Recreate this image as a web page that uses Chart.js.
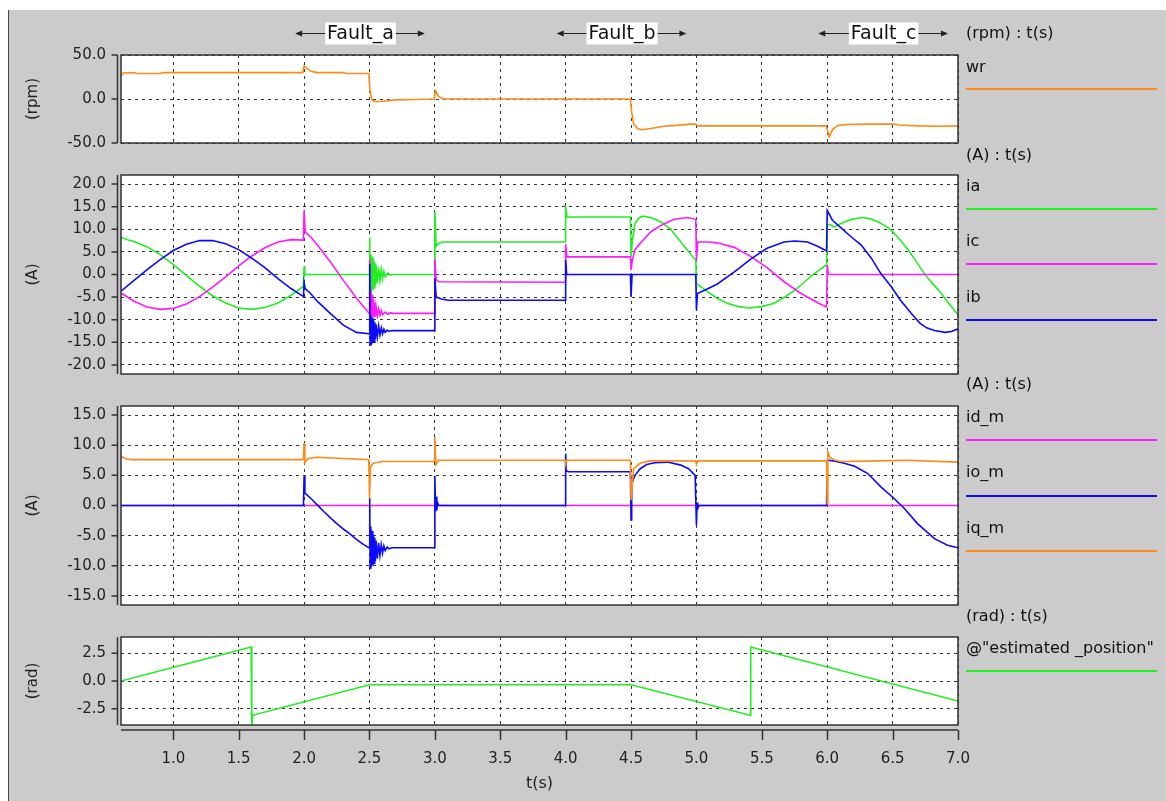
<!DOCTYPE html>
<html><head><meta charset="utf-8">
<script src="https://cdn.jsdelivr.net/npm/chart.js@4.4.1/dist/chart.umd.min.js"></script>
<style>
html,body{margin:0;padding:0;background:#fff;width:1166px;height:801px;overflow:hidden;font-family:'DejaVu Sans',sans-serif;}
#bg{position:absolute;left:8px;top:10px;width:1158px;height:791px;background:#cbcbcb;border-left:1px solid #444;box-sizing:border-box;}
canvas{position:absolute;left:0;}
.lg{position:absolute;left:966px;font-size:16px;line-height:20px;height:20px;color:#111;white-space:nowrap;}
.ln{position:absolute;left:966px;width:191px;height:2px;}
</style></head><body>
<div id="bg"></div>
<canvas id="c1" width="1166" height="150" style="top:10px"></canvas>
<canvas id="c2" width="1166" height="230" style="top:160px"></canvas>
<canvas id="c3" width="1166" height="230" style="top:390px"></canvas>
<canvas id="c4" width="1166" height="181" style="top:620px"></canvas>
<script>
// ---------- data ----------
const xTicks = [1.0,1.5,2.0,2.5,3.0,3.5,4.0,4.5,5.0,5.5,6.0,6.5,7.0];
const yTicksRpm = [-50,0,50];
const yTicksAbc = [-20,-15,-10,-5,0,5,10,15,20];
const yTicksDq = [-15,-10,-5,0,5,10,15];
const yTicksRad = [-2.5,0,2.5];

const faultNames = ['Fault_a','Fault_b','Fault_c'];
const faultStart = [2.0,4.0,6.0];
const faultEnd = [3.0,5.0,7.0];

const wr = [[0.6,26],[0.615,29.5],[0.7,30],[0.72,29],[0.9,29],[0.92,30],[1.99,30],[2.0,37.5],[2.02,35],[2.05,31.5],[2.1,30],[2.3,30],[2.32,29],[2.495,29],[2.505,8],[2.52,-1.5],[2.55,-3],[2.6,-2.5],[2.7,-1],[2.85,-0.5],[2.995,0],[3.005,9],[3.03,3],[3.06,0],[3.99,0],[4.0,-1.5],[4.02,0],[4.495,0],[4.505,-15],[4.52,-28],[4.55,-33.5],[4.58,-35],[4.65,-33.5],[4.75,-31],[4.85,-30],[4.95,-28.5],[4.995,-28.5],[5.01,-30.5],[5.99,-30.5],[6.0,-34],[6.015,-43],[6.04,-35],[6.08,-30],[6.15,-29],[6.3,-28.5],[6.5,-28.5],[6.55,-29.5],[6.7,-30.5],[6.85,-31],[7.0,-30.5]];

const ia = [[0.6,8.2],[0.65,7.7],[0.7,7.3],[0.8,6.1],[0.9,4.4],[1.0,2.2],[1.1,-0.2],[1.2,-2.6],[1.3,-4.7],[1.4,-6.3],[1.5,-7.4],[1.6,-7.7],[1.7,-7.3],[1.8,-6.3],[1.9,-4.6],[1.995,-2.6],[2.0,1.8],[2.005,0],[2.495,0],
 [2.5,0],[2.502,8.2],[2.505,-4.5],[2.51,4.5],[2.515,-4],[2.52,4],[2.525,-3.5],[2.53,3.4],[2.535,-3],[2.54,2.8],[2.545,-2.5],[2.55,2.2],[2.56,-2],[2.57,1.6],[2.58,-1.4],[2.59,1.1],[2.6,-0.9],[2.61,0.7],[2.62,-0.5],[2.64,0.3],[2.66,-0.1],[2.68,0],
 [2.995,0],[3.0,13.9],[3.01,6.2],[3.03,6.9],[3.06,7.2],[3.995,7.2],[4.0,15.1],[4.01,12.7],[4.495,12.7],[4.5,3.9],[4.51,7.5],[4.53,11.2],[4.56,12.5],[4.59,12.9],[4.65,12.6],[4.73,11.6],[4.8,10.1],[4.85,8.3],[4.9,6.5],[4.96,4.3],[4.995,3.2],
 [5.0,-2.0],[5.085,-3.8],[5.16,-5.3],[5.24,-6.4],[5.32,-7.1],[5.4,-7.4],[5.5,-7.1],[5.59,-6.4],[5.67,-5.1],[5.75,-3.5],[5.81,-2.1],[5.87,-0.5],[5.93,0.8],[5.995,2.1],
 [6.0,10.9],[6.02,11.1],[6.05,10.5],[6.13,11.6],[6.2,12.3],[6.27,12.6],[6.33,12.3],[6.39,11.6],[6.44,10.8],[6.49,9.8],[6.55,7.9],[6.62,5.4],[6.68,2.9],[6.74,0.3],[6.8,-1.8],[6.87,-4.1],[6.93,-6.4],[7.0,-8.9]];

const ic = [[0.6,-4.1],[0.7,-5.9],[0.8,-7.2],[0.9,-7.7],[1.0,-7.5],[1.1,-6.5],[1.2,-4.9],[1.3,-2.8],[1.4,-0.5],[1.5,1.9],[1.6,4.1],[1.7,5.9],[1.8,7.2],[1.9,7.7],[1.995,7.6],[2.0,14.2],[2.008,9.6],[2.02,9.1],[2.06,8.0],[2.1,6.6],[2.2,2.8],[2.3,-1.3],[2.4,-5.2],[2.495,-8.5],
 [2.5,-8.6],[2.502,3.5],[2.505,-9.6],[2.51,-3.5],[2.515,-9.5],[2.52,-4.5],[2.525,-9.4],[2.53,-5.5],[2.535,-9.3],[2.54,-6.3],[2.545,-9.2],[2.55,-7],[2.56,-9.1],[2.57,-7.6],[2.58,-9],[2.59,-8],[2.6,-8.9],[2.62,-8.3],[2.64,-8.8],[2.66,-8.5],[2.68,-8.6],
 [2.995,-8.6],[3.0,3.5],[3.01,-1.2],[3.03,-1.6],[3.995,-1.7],[4.0,6.7],[4.01,3.9],[4.495,3.9],[4.5,1.0],[4.51,3.2],[4.53,5.5],[4.57,6.9],[4.65,9.4],[4.73,10.9],[4.83,12.2],[4.93,12.6],[4.995,12.2],
 [5.0,3.2],[5.01,7.2],[5.09,7.2],[5.16,7.0],[5.29,6.0],[5.42,3.9],[5.54,1.5],[5.67,-1.6],[5.8,-4.2],[5.93,-6.3],[5.995,-7.2],[6.0,2.1],[6.01,0],[7.0,0]];

const ib = [[0.6,-3.7],[0.7,-1.3],[0.8,1.1],[0.9,3.3],[1.0,5.3],[1.1,6.7],[1.2,7.5],[1.3,7.5],[1.4,6.8],[1.5,5.5],[1.6,3.6],[1.7,1.5],[1.8,-0.9],[1.9,-3.1],[1.995,-4.9],[2.0,-1.8],[2.008,-3.1],[2.05,-4.2],[2.1,-5.9],[2.2,-8.6],[2.3,-11.2],[2.4,-12.8],[2.495,-13.1],
 [2.5,-13.1],[2.502,2.4],[2.505,-15.6],[2.51,-9],[2.515,-15.5],[2.52,-9.5],[2.525,-15.2],[2.53,-10],[2.535,-14.8],[2.54,-10.5],[2.545,-14.3],[2.55,-11],[2.56,-13.8],[2.57,-11.4],[2.58,-13.4],[2.59,-11.8],[2.6,-13.1],[2.61,-12.1],[2.62,-12.8],[2.635,-12.3],[2.65,-12.6],[2.67,-12.4],
 [2.995,-12.4],[3.0,-0.9],[3.01,-5.0],[3.05,-5.4],[3.1,-5.7],[3.995,-5.7],[4.0,3.2],[4.008,0],[4.495,0],[4.5,-4.9],[4.508,0],[4.995,0],
 [5.0,-7.9],[5.008,-4.2],[5.09,-3.1],[5.16,-2.1],[5.29,0.6],[5.42,3.5],[5.54,5.8],[5.67,7.2],[5.75,7.4],[5.85,7.2],[5.93,6.2],[5.995,5.2],
 [6.0,14.2],[6.04,12.0],[6.11,10.2],[6.18,8.4],[6.26,6.5],[6.34,3.5],[6.41,0.2],[6.49,-2.7],[6.56,-5.7],[6.64,-8.5],[6.71,-10.8],[6.76,-11.8],[6.82,-12.4],[6.9,-12.8],[6.95,-12.6],[7.0,-12.0]];

const idm = [[0.6,0],[7.0,0]];

const iom = [[0.6,0],[1.995,0],[2.0,4.85],[2.006,2.0],[2.02,1.8],[2.06,1.0],[2.1,0.1],[2.15,-1.0],[2.2,-2.0],[2.25,-3.0],[2.3,-3.9],[2.35,-4.7],[2.4,-5.6],[2.45,-6.4],[2.495,-7.0],
 [2.5,-7],[2.502,1.2],[2.505,-10.4],[2.51,-3.5],[2.515,-10.2],[2.52,-4.2],[2.525,-9.9],[2.53,-4.8],[2.535,-9.6],[2.54,-5.3],[2.545,-9.2],[2.55,-5.8],[2.56,-8.8],[2.57,-6.2],[2.58,-8.3],[2.59,-6.5],[2.6,-7.9],[2.61,-6.7],[2.62,-7.5],[2.635,-6.9],[2.65,-7.2],[2.67,-7.0],
 [2.995,-7.0],[3.0,4.9],[3.005,-1],[3.01,1.5],[3.015,-0.8],[3.02,0.5],[3.03,0],[3.995,0],[4.0,8.6],[4.005,5.8],[4.02,5.6],[4.495,5.6],[4.5,-2.4],[4.505,3.6],[4.53,5.0],[4.57,6.1],[4.62,6.8],[4.68,7.1],[4.78,7.2],[4.88,6.7],[4.94,6.1],[4.99,5.0],
 [5.0,-3.3],[5.005,0.5],[5.01,-0.5],[5.02,0],[5.995,0],[6.0,7.5],[6.05,7.4],[6.13,7.0],[6.21,6.5],[6.31,5.3],[6.41,3.1],[6.51,1.2],[6.59,-0.5],[6.69,-3.0],[6.82,-5.5],[6.92,-6.6],[7.0,-7.0]];

const iqm = [[0.6,8.2],[0.63,7.8],[0.68,7.6],[1.995,7.6],[2.0,10.4],[2.006,7.1],[2.03,7.8],[2.1,8.0],[2.3,7.8],[2.495,7.6],[2.5,1.2],[2.508,6.4],[2.53,7.0],[2.6,7.3],[2.995,7.3],[3.0,11.4],[3.008,6.8],[3.03,7.5],[3.995,7.5],[4.0,7.0],[4.01,7.5],[4.495,7.5],[4.5,0.9],[4.52,6.1],[4.57,7.0],[4.64,7.4],[4.995,7.4],[5.0,6.8],[5.01,7.4],[5.995,7.4],[6.0,0.3],[6.005,8.9],[6.02,8.0],[6.05,7.6],[6.1,7.3],[6.4,7.4],[6.6,7.5],[7.0,7.2]];

const pos = [[0.6,0],[1.595,3.06],[1.6,-4.5],[1.605,-3.08],[2.5,-0.33],[4.5,-0.33],[5.41,-3.08],[5.415,3.06],[7.0,-1.8]];

// ---------- styles / layout ----------
const C = {orange:'#ff8a14', green:'#22ee22', magenta:'#ff1aff', blue:'#0a0aff'};
const FONT = 'DejaVu Sans';

const decor = {
  id: 'decor',
  beforeDraw(chart) {
    const a = chart.chartArea, ctx = chart.ctx;
    ctx.save(); ctx.fillStyle = '#fff';
    ctx.fillRect(a.left, a.top, a.right - a.left, a.bottom - a.top);
    ctx.restore();
  },
  afterDraw(chart, args, o) {
    const a = chart.chartArea, ctx = chart.ctx, ys = chart.scales.y, xs = chart.scales.x;
    ctx.save();
    ctx.strokeStyle = '#333'; ctx.lineWidth = 1.5;
    ctx.strokeRect(a.left, a.top, a.right - a.left, a.bottom - a.top);
    const ax = a.left - 3.5;
    ctx.beginPath(); ctx.moveTo(ax, a.top); ctx.lineTo(ax, a.bottom);
    ys.ticks.forEach(t => { const y = ys.getPixelForValue(t.value); ctx.moveTo(ax - 6, y); ctx.lineTo(ax, y); });
    ctx.stroke();
    if (o.xAxis) {
      const ay = a.bottom + 5;
      ctx.beginPath(); ctx.moveTo(a.left, ay); ctx.lineTo(a.right, ay);
      xs.ticks.forEach(t => { const x = Math.round(xs.getPixelForValue(t.value)) + 0.5; ctx.moveTo(x, ay); ctx.lineTo(x, ay + 10); });
      ctx.stroke();
    }
    if (o.faults) {
      const ty = a.top - 21.5;
      ctx.font = '19px "' + FONT + '"'; ctx.textBaseline = 'middle'; ctx.textAlign = 'center';
      faultNames.forEach((name, i) => {
        const xl = xs.getPixelForValue(faultStart[i]) - 9;
        const xr = xs.getPixelForValue(faultEnd[i]) - 10;
        const cx = xs.getPixelForValue((faultStart[i] + faultEnd[i]) / 2) - 9;
        const w = ctx.measureText(name).width + 4, h = 22;
        ctx.fillStyle = '#fff'; ctx.fillRect(cx - w / 2, ty - h / 2, w, h);
        ctx.strokeStyle = '#222'; ctx.lineWidth = 1;
        ctx.beginPath(); ctx.moveTo(xl + 5, ty); ctx.lineTo(cx - w / 2, ty); ctx.moveTo(cx + w / 2, ty); ctx.lineTo(xr - 5, ty); ctx.stroke();
        ctx.fillStyle = '#222';
        ctx.beginPath(); ctx.moveTo(xl, ty); ctx.lineTo(xl + 7, ty - 3); ctx.lineTo(xl + 7, ty + 3); ctx.closePath(); ctx.fill();
        ctx.beginPath(); ctx.moveTo(xr, ty); ctx.lineTo(xr - 7, ty - 3); ctx.lineTo(xr - 7, ty + 3); ctx.closePath(); ctx.fill();
        ctx.fillStyle = '#111'; ctx.fillText(name, cx, ty + 1);
      });
    }
    ctx.restore();
  }
};

function panel(id, cTop, cH, aTop, aBot, yMin, yMax, yTicks, yTitle, sets, opts) {
  const below = cTop + cH - aBot;
  return new Chart(document.getElementById(id), {
    type: 'line',
    data: { datasets: sets.map(s => ({
      data: s.pts.map(p => ({x: p[0], y: p[1]})),
      borderColor: s.color, borderWidth: 1.6, pointRadius: 0, tension: 0, fill: false
    })) },
    options: {
      responsive: false, animation: false, events: [],
      layout: { autoPadding: false, padding: { left: 0, right: 208, top: aTop - cTop, bottom: opts.xAxis ? 0 : below } },
      plugins: { legend: {display: false}, tooltip: {enabled: false}, decor: opts },
      scales: {
        x: {
          type: 'linear', min: 0.6, max: 7.0,
          afterBuildTicks: s => { s.ticks = xTicks.map(v => ({value: v})); },
          afterFit: s => { s.height = opts.xAxis ? below : 0; s.paddingLeft = 0; s.paddingRight = 0; },
          grid: { color: '#333', lineWidth: 1, drawTicks: false },
          border: { display: false, dash: [3, 4] },
          ticks: { display: !!opts.xAxis, autoSkip: false, maxRotation: 0, padding: 25,
                   font: {family: FONT, size: 15}, color: '#222', callback: v => Number(v).toFixed(1) },
          title: { display: !!opts.xAxis, text: 't(s)', font: {family: FONT, size: 16}, color: '#222', padding: {top: 0, bottom: 8} }
        },
        y: {
          type: 'linear', min: yMin, max: yMax,
          afterBuildTicks: s => { s.ticks = yTicks.map(v => ({value: v})); },
          afterFit: s => { s.width = 121; s.paddingTop = 0; s.paddingBottom = 0; },
          grid: { color: '#333', lineWidth: 1, drawTicks: false },
          border: { display: false, dash: [3, 4] },
          ticks: { padding: 15, font: {family: FONT, size: 15}, color: '#222', callback: v => Number(v).toFixed(1) },
          title: { display: true, text: yTitle, font: {family: FONT, size: 15}, color: '#222', padding: {top: 24, bottom: 0} }
        }
      }
    },
    plugins: [decor]
  });
}

panel('c1', 10, 150, 55, 143, -50, 50, yTicksRpm, '(rpm)',
  [{pts: wr, color: C.orange}], {faults: true});
panel('c2', 160, 230, 175, 374, -22, 22, yTicksAbc, '(A)',
  [{pts: ib, color: C.blue}, {pts: ic, color: C.magenta}, {pts: ia, color: C.green}], {});
panel('c3', 390, 230, 406, 605, -16.5, 16.5, yTicksDq, '(A)',
  [{pts: iqm, color: C.orange}, {pts: iom, color: C.blue}, {pts: idm, color: C.magenta}], {});
panel('c4', 620, 181, 637, 725, -3.95, 3.95, yTicksRad, '(rad)',
  [{pts: pos, color: C.green}], {xAxis: true});

// ---------- right-hand legend (HTML text) ----------
const headers = [['(rpm) : t(s)', 33], ['(A) : t(s)', 155], ['(A) : t(s)', 384], ['(rad) : t(s)', 616]];
const legendItems = [
  ['wr', C.orange, 66.7, 88.7],
  ['ia', C.green, 186, 209], ['ic', C.magenta, 241, 264.3], ['ib', C.blue, 296.7, 320],
  ['id_m', C.magenta, 416.7, 440], ['io_m', C.blue, 472.3, 495.7], ['iq_m', C.orange, 527.7, 550.7],
  ['@"estimated _position"', C.green, 648, 670.7]
];
function addText(t, y) {
  const d = document.createElement('div'); d.className = 'lg'; d.textContent = t;
  d.style.top = (y - 10) + 'px'; document.body.appendChild(d);
}
headers.forEach(h => addText(h[0], h[1]));
legendItems.forEach(it => {
  addText(it[0], it[2]);
  const l = document.createElement('div'); l.className = 'ln';
  l.style.top = (it[3] - 1) + 'px'; l.style.background = it[1];
  document.body.appendChild(l);
});
</script>
</body></html>
